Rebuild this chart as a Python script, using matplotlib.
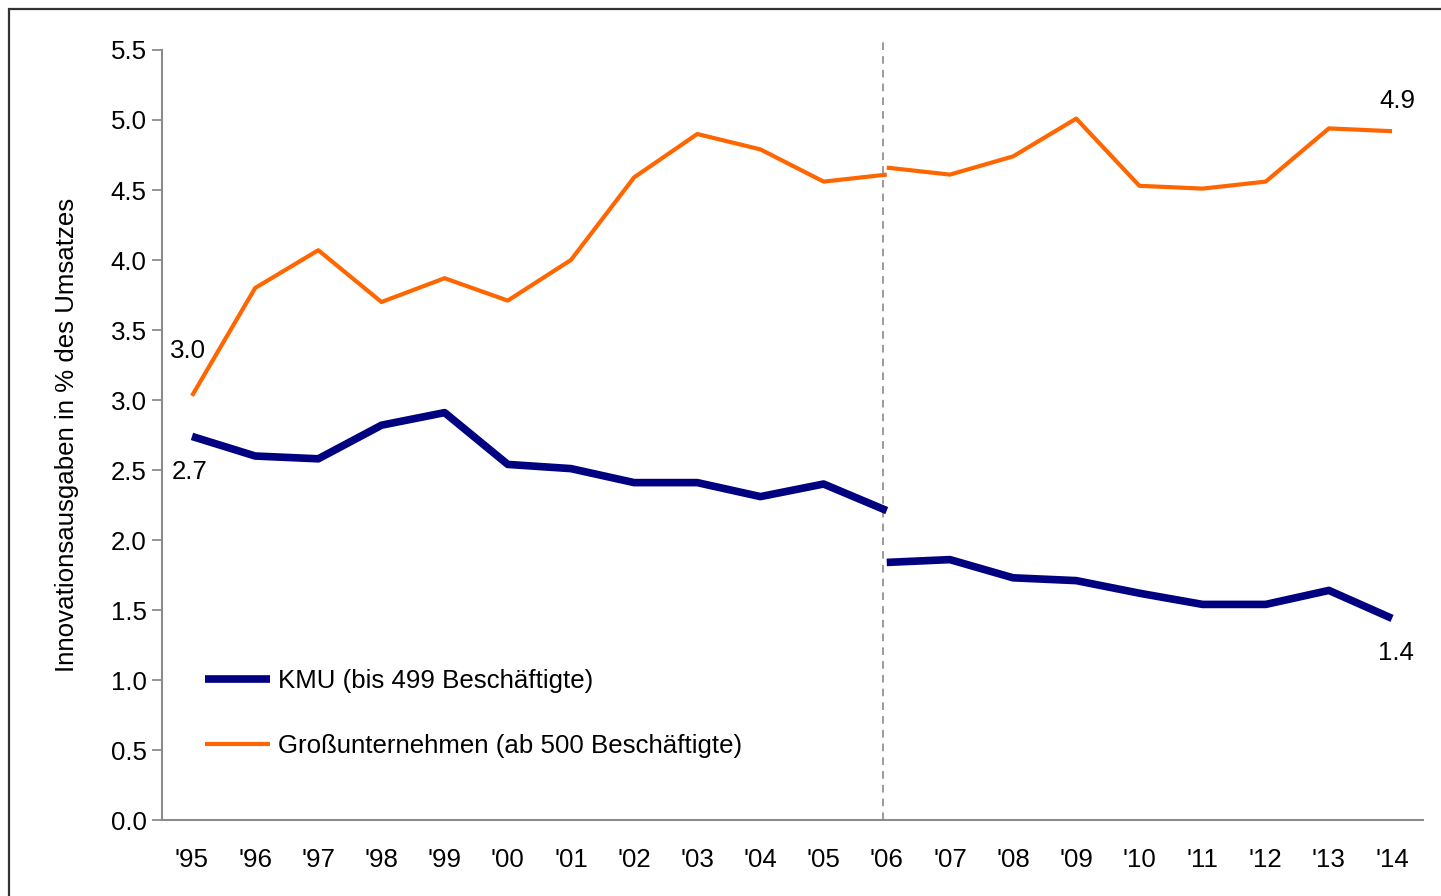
import matplotlib
matplotlib.use("Agg")
import matplotlib.pyplot as plt
from matplotlib.patches import Rectangle

plt.rcParams['font.family'] = ['Liberation Sans', 'DejaVu Sans']

# x categories
years = ["'95", "'96", "'97", "'98", "'99", "'00", "'01", "'02", "'03", "'04",
         "'05", "'06", "'07", "'08", "'09", "'10", "'11", "'12", "'13", "'14"]

# series break at '06 (methodological change)
kmu_old = [2.74, 2.60, 2.58, 2.82, 2.91, 2.54, 2.51, 2.41, 2.41, 2.31, 2.40, 2.21]
kmu_new = [1.84, 1.86, 1.73, 1.71, 1.62, 1.54, 1.54, 1.64, 1.44]
gross_old = [3.03, 3.80, 4.07, 3.70, 3.87, 3.71, 4.00, 4.59, 4.90, 4.79, 4.56, 4.61]
gross_new = [4.66, 4.61, 4.74, 5.01, 4.53, 4.51, 4.56, 4.94, 4.92]

label_kmu = "KMU (bis 499 Beschäftigte)"
label_gross = "Großunternehmen (ab 500 Beschäftigte)"
y_label = "Innovationsausgaben in % des Umsatzes"

BLUE = "#000080"
ORANGE = "#FF6600"
GREY = "#8c8c8c"
FS = 18.6

fig = plt.figure(figsize=(14.41, 8.96), dpi=100)
ax = fig.add_axes([0.1124, 0.0848, 0.8751, 0.8594])

x_old = list(range(len(kmu_old)))
x_new = list(range(len(kmu_old) - 1, len(years)))

ax.plot(x_old, kmu_old, color=BLUE, lw=5.5, solid_capstyle="butt", label=label_kmu)
ax.plot(x_new, kmu_new, color=BLUE, lw=5.5, solid_capstyle="butt")
ax.plot(x_old, gross_old, color=ORANGE, lw=3, solid_capstyle="butt", label=label_gross)
ax.plot(x_new, gross_new, color=ORANGE, lw=3, solid_capstyle="butt")

# break marker
ax.plot([10.94, 10.94], [0, 5.59], color="#808080", lw=1.1, ls=(0, (5, 4)),
        clip_on=False, zorder=1)

ax.set_xlim(-0.475, 19.49)
ax.set_ylim(0, 5.5)
ax.set_yticks([i * 0.5 for i in range(12)])
ax.set_yticklabels([f"{i * 0.5:.1f}" for i in range(12)])
ax.set_xticks(range(len(years)))
ax.set_xticklabels(years)

for s in ["top", "right"]:
    ax.spines[s].set_visible(False)
for s in ["left", "bottom"]:
    ax.spines[s].set_color(GREY)
    ax.spines[s].set_linewidth(1.5)

ax.tick_params(axis="y", length=7, width=1.3, color=GREY, labelsize=FS, pad=4)
ax.tick_params(axis="x", length=0, labelsize=FS, pad=20)

ax.set_ylabel(y_label, fontsize=FS)
ax.yaxis.set_label_coords(-0.066, 0.5)

# end-point labels
ax.annotate(f"{gross_old[0]:.1f}", (0, gross_old[0]), xytext=(-4, 45),
            textcoords="offset pixels", ha="center", va="center", fontsize=FS)
ax.annotate(f"{kmu_old[0]:.1f}", (0, kmu_old[0]), xytext=(-2, -36),
            textcoords="offset pixels", ha="center", va="center", fontsize=FS)
ax.annotate(f"{gross_new[-1]:.1f}", (len(years) - 1, gross_new[-1]), xytext=(5, 30),
            textcoords="offset pixels", ha="center", va="center", fontsize=FS)
ax.annotate(f"{kmu_new[-1]:.1f}", (len(years) - 1, kmu_new[-1]), xytext=(4, -35),
            textcoords="offset pixels", ha="center", va="center", fontsize=FS)

ax.legend(loc="lower left", bbox_to_anchor=(0.016, 0.05), frameon=False,
          fontsize=FS, handlelength=2.5, handletextpad=0.3, labelspacing=1.6)

# outer frame (cut off at right and bottom like the source)
fig.patches.append(Rectangle((9 / 1441, -0.05), 1.1, 1 - 9 / 896 + 0.05,
                             transform=fig.transFigure, fill=False,
                             edgecolor="#333333", lw=1.6))

fig.savefig("out.png", dpi=100)
